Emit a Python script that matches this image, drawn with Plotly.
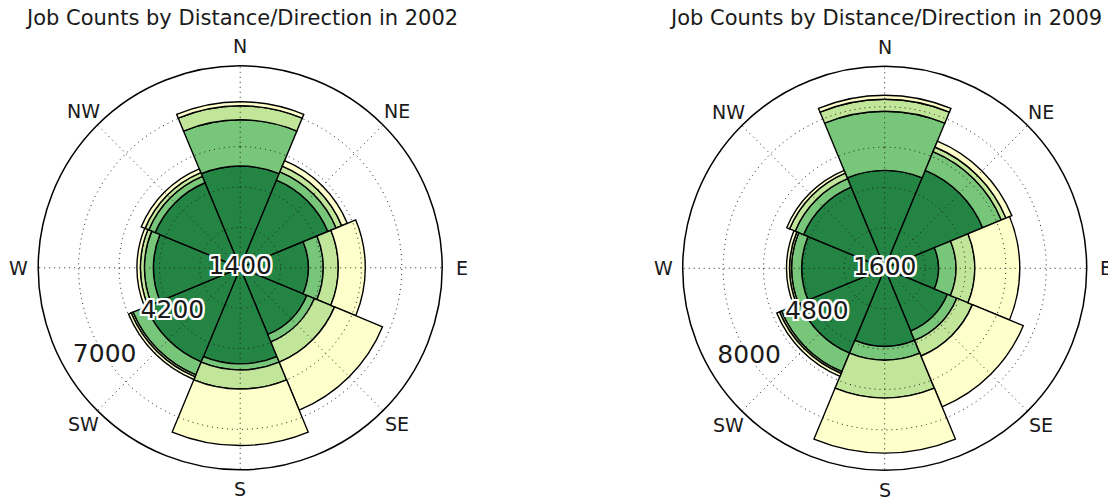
import numpy as np
import plotly.graph_objects as go

# ---------------- data ----------------
directions = ["N", "NE", "E", "SE", "S", "SW", "W", "NW"]
dir_angles = [0, 45, 90, 135, 180, 225, 270, 315]
band_names = ["Band 1", "Band 2", "Band 3", "Band 4"]
band_colors = ["#238443", "#78c679", "#c2e699", "#ffffcc"]

jobs_2002_band1 = [3530, 3290, 2360, 2500, 3330, 3530, 3010, 3190]
jobs_2002_band2 = [1600, 310, 520, 280, 210, 490, 310, 240]
jobs_2002_band3 = [485, 210, 520, 760, 660, 70, 140, 140]
jobs_2002_band4 = [140, 210, 935, 1800, 1960, 100, 120, 140]

jobs_2009_band1 = [3880, 4200, 2130, 2690, 3090, 3640, 3290, 3480]
jobs_2009_band2 = [2340, 800, 690, 400, 550, 790, 400, 360]
jobs_2009_band3 = [475, 200, 750, 670, 1500, 80, 80, 240]
jobs_2009_band4 = [160, 250, 1780, 2180, 2180, 120, 120, 120]

radial_max_2002 = 7000
radial_max_2009 = 8000
radial_labels_2002 = ["1400", "4200", "7000"]
radial_labels_2009 = ["1600", "4800", "8000"]

titles = ["Job Counts by Distance/Direction in 2002",
          "Job Counts by Distance/Direction in 2009"]

FONT = "DejaVu Sans"
TEXT_COLOR = "#1a1a1a"

H = 497
W = 1108
R = 202
centers = [(240.2, 267.8), (884.7, 268.3)]
LABEL_RADIUS = 221.5

fig = go.Figure()

charts = [
    ("polar", [jobs_2002_band1, jobs_2002_band2, jobs_2002_band3, jobs_2002_band4],
     radial_max_2002, radial_labels_2002),
    ("polar2", [jobs_2009_band1, jobs_2009_band2, jobs_2009_band3, jobs_2009_band4],
     radial_max_2009, radial_labels_2009),
]

grid_dash = "1px,4px"
circle_theta = np.linspace(0, 360, 361)
halo = ", ".join(f"{dx}px {dy}px 0 #fff" for dx in (-2, 0, 2) for dy in (-2, 0, 2)
                 if not (dx == 0 and dy == 0))

for sub, bands, rmax, rlabels in charts:
    for name, vals, col in zip(band_names, bands, band_colors):
        fig.add_trace(go.Barpolar(
            r=vals, theta=dir_angles, width=[45] * len(dir_angles),
            name=name, subplot=sub,
            marker=dict(color=col, line=dict(color="black", width=1.4)),
            hoverinfo="skip",
        ))
    step = rmax / 5
    # dotted circles (grid drawn above bars, as in the reference)
    cr, ct = [], []
    for k in range(1, 5):
        cr += [k * step] * len(circle_theta) + [None]
        ct += list(circle_theta) + [None]
    fig.add_trace(go.Scatterpolar(
        r=cr, theta=ct, mode="lines", subplot=sub, hoverinfo="skip",
        line=dict(color="#222", width=1, dash=grid_dash)))
    # dotted spokes
    sr, st = [], []
    for a in dir_angles:
        sr += [0, rmax, None]
        st += [a, a, None]
    fig.add_trace(go.Scatterpolar(
        r=sr, theta=st, mode="lines", subplot=sub, hoverinfo="skip",
        line=dict(color="#222", width=1, dash=grid_dash)))
    # radial labels
    fig.add_trace(go.Scatterpolar(
        r=[0, 2 * step, 4 * step], theta=[237, 237, 237], mode="text",
        text=rlabels, subplot=sub, hoverinfo="skip",
        textposition="middle center",
        textfont=dict(family=FONT, size=25, color=TEXT_COLOR, shadow=halo)))


def polar_layout(cx, cy, rmax):
    return dict(
        domain=dict(x=[(cx - R) / W, (cx + R) / W],
                    y=[(H - cy - R) / H, (H - cy + R) / H]),
        bgcolor="white",
        barmode="stack",
        radialaxis=dict(range=[0, rmax], showgrid=False, showline=False,
                        showticklabels=False, ticks=""),
        angularaxis=dict(direction="clockwise", rotation=90,
                         tickmode="array", tickvals=dir_angles,
                         showticklabels=False,
                         showgrid=False, showline=True, linecolor="black",
                         linewidth=1.5, ticks=""),
    )


annotations = []
for (cx, cy), title in zip(centers, titles):
    annotations.append(dict(
        text=title, x=(cx + 1) / W, y=1 - 18 / H, xref="paper", yref="paper",
        xanchor="center", yanchor="middle", showarrow=False,
        font=dict(family=FONT, size=21, color=TEXT_COLOR)))
    # compass labels centred just outside the frame
    for lab, ang in zip(directions, dir_angles):
        rad = np.deg2rad(ang)
        px = cx + LABEL_RADIUS * np.sin(rad)
        py = cy - LABEL_RADIUS * np.cos(rad)
        annotations.append(dict(
            text=lab, x=px / W, y=1 - py / H, xref="paper", yref="paper",
            xanchor="center", yanchor="middle", showarrow=False,
            font=dict(family=FONT, size=19, color=TEXT_COLOR)))

fig.update_layout(
    width=W, height=H,
    margin=dict(l=0, r=0, t=0, b=0),
    paper_bgcolor="white",
    showlegend=False,
    polar=polar_layout(*centers[0], radial_max_2002),
    polar2=polar_layout(*centers[1], radial_max_2009),
    annotations=annotations,
)

fig.write_html("out.html", config={"displayModeBar": False},
               post_script="document.body.style.margin='0';")
